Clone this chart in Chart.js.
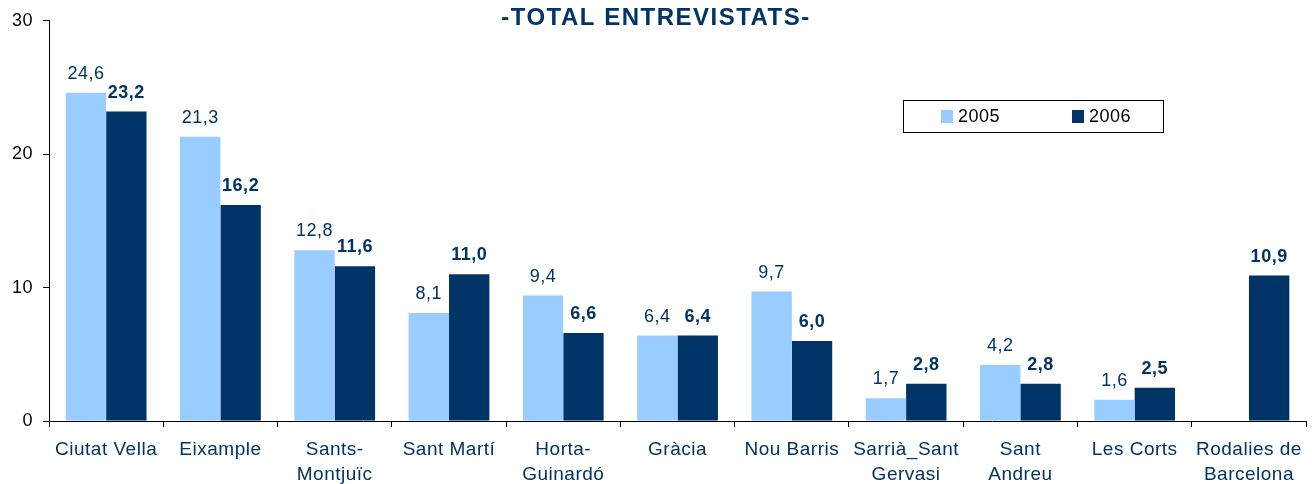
<!DOCTYPE html>
<html>
<head>
<meta charset="utf-8">
<script src="https://cdn.jsdelivr.net/npm/chart.js@4/dist/chart.umd.min.js"></script>
<style>
  body { margin: 0; background: #fff; }
  #wrap { width: 1312px; height: 484px; }
</style>
</head>
<body>
<div id="wrap"><canvas id="barChart" width="1312" height="484"></canvas></div>
<script>
// districtes i percentatges
const districtes = [
  'Ciutat Vella', 'Eixample', ['Sants-', 'Montjuïc'], 'Sant Martí', ['Horta-', 'Guinardó'],
  'Gràcia', 'Nou Barris', ['Sarrià_Sant', 'Gervasi'], ['Sant', 'Andreu'], 'Les Corts',
  ['Rodalies de', 'Barcelona']
];
const valors2005 = [24.6, 21.3, 12.8, 8.1, 9.4, 6.4, 9.7, 1.7, 4.2, 1.6, null];
const valors2006 = [23.2, 16.2, 11.6, 11.0, 6.6, 6.4, 6.0, 2.8, 2.8, 2.5, 10.9];
const ticksY = [0, 10, 20, 30];

const NAVY = '#003366';
const LIGHT = '#99CCFF';
const FONT = "'Liberation Sans', Arial, sans-serif";

const fmt = v => v.toFixed(1).replace('.', ',');

// espaiat de lletres com l'original
const spacing = {
  id: 'spacing',
  beforeUpdate(chart) { chart.ctx.letterSpacing = '0.5px'; },
  beforeDraw(chart) { chart.ctx.letterSpacing = '0.5px'; }
};

// etiquetes, títol i llegenda
const extras = {
  id: 'extras',
  afterDatasetsDraw(chart) {
    const ctx = chart.ctx;
    ctx.save();
    ctx.textAlign = 'center';
    ctx.textBaseline = 'alphabetic';
    ctx.fillStyle = NAVY;
    chart.data.datasets.forEach((ds, i) => {
      const meta = chart.getDatasetMeta(i);
      ctx.font = (i === 1 ? 'bold ' : '') + '18px ' + FONT;
      meta.data.forEach((bar, j) => {
        const v = ds.data[j];
        if (v === null || v === undefined) return;
        ctx.fillText(fmt(v), bar.x, bar.y - 14);
      });
    });

    // títol
    ctx.letterSpacing = '1.5px';
    ctx.font = 'bold 24px ' + FONT;
    ctx.fillText('-TOTAL ENTREVISTATS-', chart.width / 2, 25);

    // llegenda
    ctx.letterSpacing = '0.5px';
    const lx = 903, ly = 100, lw = 260, lh = 32;
    ctx.fillStyle = '#fff';
    ctx.fillRect(lx, ly, lw, lh);
    ctx.strokeStyle = '#000';
    ctx.lineWidth = 1;
    ctx.strokeRect(lx + 0.5, ly + 0.5, lw, lh);
    ctx.font = '18px ' + FONT;
    ctx.textAlign = 'left';
    ctx.textBaseline = 'middle';
    const items = [{ x: 941, c: LIGHT, t: '2005' }, { x: 1072, c: NAVY, t: '2006' }];
    items.forEach(it => {
      ctx.fillStyle = it.c;
      ctx.fillRect(it.x, ly + 10, 12, 13);
      ctx.fillStyle = '#000';
      ctx.fillText(it.t, it.x + 17, ly + 17);
    });
    ctx.restore();
  }
};

new Chart(document.getElementById('barChart'), {
  type: 'bar',
  data: {
    labels: districtes,
    datasets: [
      { label: '2005', data: valors2005, backgroundColor: LIGHT },
      { label: '2006', data: valors2006, backgroundColor: NAVY }
    ]
  },
  options: {
    responsive: false,
    animation: false,
    categoryPercentage: 0.707,
    barPercentage: 1,
    layout: { padding: { top: 11, right: 3, left: 0, bottom: 0 } },
    plugins: { legend: { display: false }, tooltip: { enabled: false }, title: { display: false } },
    scales: {
      x: {
        grid: { display: true, drawOnChartArea: false, tickLength: 6, color: '#000', offset: true },
        border: { display: true, color: '#000', width: 1 },
        ticks: { color: NAVY, font: { family: FONT, size: 19, lineHeight: 1.32 }, padding: 10, maxRotation: 0, autoSkip: false },
        afterFit(s) { s.height = 63; }
      },
      y: {
        min: 0,
        max: 30,
        afterBuildTicks(s) { s.ticks = ticksY.map(v => ({ value: v })); },
        grid: { display: true, drawOnChartArea: false, tickLength: 6, color: '#000' },
        border: { display: true, color: '#000', width: 1 },
        ticks: { color: '#000', font: { family: FONT, size: 18 }, padding: 10 },
        afterFit(s) { s.width = 49; }
      }
    }
  },
  plugins: [spacing, extras]
});
</script>
</body>
</html>
